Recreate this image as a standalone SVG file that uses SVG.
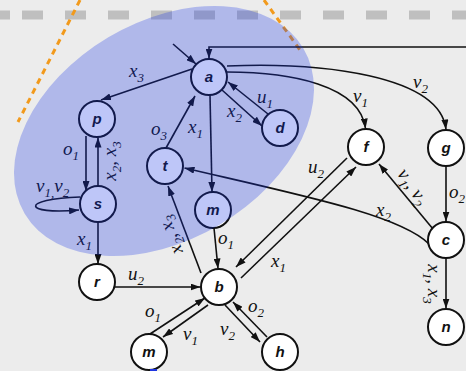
<svg xmlns="http://www.w3.org/2000/svg" width="466" height="371" viewBox="0 0 466 371">
  <defs>
    <marker id="arr" viewBox="0 0 10 7" refX="10" refY="3.5" markerWidth="10" markerHeight="7" orient="auto" markerUnits="userSpaceOnUse">
      <path d="M0,0 L10,3.5 L0,7 z" fill="#111"/>
    </marker>
    <style>
      .edge { fill: none; stroke: #111; stroke-width: 1.6; marker-end: url(#arr); }
      .node circle { fill: #fff; stroke: #111; stroke-width: 2; }
      .node text { font-family: "Liberation Sans", Arial, sans-serif; font-weight: bold; font-style: italic; font-size: 15px; text-anchor: middle; fill: #111; }
      .lbl { font-family: "Liberation Serif", "Times New Roman", serif; font-style: italic; font-size: 19px; fill: #111; }
      .sb { font-size: 13px; }
      .guide { fill: none; stroke: #f29a1c; stroke-width: 3; stroke-dasharray: 6 5; }
    </style>
  </defs>

  <!-- page background -->
  <rect x="0" y="0" width="466" height="371" fill="#ececec"/>

  <!-- gray dashed band across the top -->
  <g id="band" fill="none" stroke="#bfbfbf" stroke-width="9">
    <line x1="0" y1="15" x2="10" y2="15"/>
    <line x1="22" y1="15" x2="466" y2="15" stroke-dasharray="21 22"/>
  </g>

  <!-- orange guide lines -->
  <g id="guides">
    <line class="guide" x1="80" y1="0" x2="18" y2="122"/>
    <line class="guide" x1="264" y1="0" x2="300" y2="50"/>
  </g>

  <!-- connectors -->
  <g id="connectors">
    <path class="edge" d="M466,47 H209 V58.5"/>
    <path class="edge" d="M173,44 L196,64"/>
    <path class="edge" d="M192,69 L101,100"/>
    <path class="edge" d="M86,136 L86,191"/>
    <path class="edge" d="M98,186 L98,137.5"/>
    <path class="edge" d="M80,197 C20,199 22,215 79,210"/>
    <path class="edge" d="M98,222 L98,264"/>
    <path class="edge" d="M115,287 L200.5,287"/>
    <path class="edge" d="M210,95 L212,192"/>
    <path class="edge" d="M166,148 L195,96"/>
    <path class="edge" d="M222,90 L262,126"/>
    <path class="edge" d="M268,114 L228,82"/>
    <path class="edge" d="M227,72 C290,72 360,85 365.5,128.5"/>
    <path class="edge" d="M227,66 C320,62 440,75 446,129.5"/>
    <path class="edge" d="M446,166 L446,221.5"/>
    <path class="edge" d="M433,229 L379,164"/>
    <path class="edge" d="M429,244 C400,215 300,195 184.5,168"/>
    <path class="edge" d="M446,258 L446,308.5"/>
    <path class="edge" d="M347,158 L236,267"/>
    <path class="edge" d="M241,278 L356,167"/>
    <path class="edge" d="M201,273 L168,186"/>
    <path class="edge" d="M214,228 L218,268.5"/>
    <path class="edge" d="M150,334 L205,298"/>
    <path class="edge" d="M208,305 L163,337"/>
    <path class="edge" d="M225,305 L260,342"/>
    <path class="edge" d="M267,337 L233,302"/>
  </g>

  <!-- connector labels -->
  <g id="edge-labels" class="lbl">
    <text x="129" y="77">x<tspan class="sb" dy="5">3</tspan></text>
    <text x="63" y="155">o<tspan class="sb" dy="5">1</tspan></text>
    <text transform="translate(116,161) rotate(-90)" text-anchor="middle">x<tspan class="sb" dy="5">2</tspan><tspan dy="-5">, x</tspan><tspan class="sb" dy="5">3</tspan></text>
    <text x="36" y="192">v<tspan class="sb" dy="5">1,</tspan><tspan dy="-5">v</tspan><tspan class="sb" dy="5">2</tspan></text>
    <text x="77" y="245">x<tspan class="sb" dy="5">1</tspan></text>
    <text x="128" y="280">u<tspan class="sb" dy="5">2</tspan></text>
    <text x="188" y="133">x<tspan class="sb" dy="5">1</tspan></text>
    <text x="151" y="135">o<tspan class="sb" dy="5">3</tspan></text>
    <text x="227" y="117">x<tspan class="sb" dy="5">2</tspan></text>
    <text x="257" y="103">u<tspan class="sb" dy="5">1</tspan></text>
    <text x="353" y="102">v<tspan class="sb" dy="5">1</tspan></text>
    <text x="413" y="88">v<tspan class="sb" dy="5">2</tspan></text>
    <text x="449" y="198">o<tspan class="sb" dy="5">2</tspan></text>
    <text transform="translate(408,190) rotate(55)" text-anchor="middle">v<tspan class="sb" dy="5">1</tspan><tspan dy="-5">, v</tspan><tspan class="sb" dy="5">2</tspan></text>
    <text x="376" y="216">x<tspan class="sb" dy="5">2</tspan></text>
    <text transform="translate(428,284) rotate(90)" text-anchor="middle">x<tspan class="sb" dy="5">1</tspan><tspan dy="-5">, x</tspan><tspan class="sb" dy="5">3</tspan></text>
    <text x="308" y="173">u<tspan class="sb" dy="5">2</tspan></text>
    <text x="271" y="267">x<tspan class="sb" dy="5">1</tspan></text>
    <text transform="translate(176,233) rotate(-111)" text-anchor="middle">x<tspan class="sb" dy="5">2</tspan><tspan dy="-5">, x</tspan><tspan class="sb" dy="5">3</tspan></text>
    <text x="218" y="244">o<tspan class="sb" dy="5">1</tspan></text>
    <text x="145" y="317">o<tspan class="sb" dy="5">1</tspan></text>
    <text x="183" y="340">v<tspan class="sb" dy="5">1</tspan></text>
    <text x="220" y="335">v<tspan class="sb" dy="5">2</tspan></text>
    <text x="248" y="312">o<tspan class="sb" dy="5">2</tspan></text>
  </g>

  <!-- nodes -->
  <g id="node-a" class="node"><circle cx="209" cy="77" r="18"/><text x="209" y="82">a</text></g>
  <g id="node-p" class="node"><circle cx="97" cy="119" r="18"/><text x="97" y="124">p</text></g>
  <g id="node-t" class="node"><circle cx="165" cy="166" r="18"/><text x="165" y="171">t</text></g>
  <g id="node-d" class="node"><circle cx="280" cy="128" r="18"/><text x="280" y="133">d</text></g>
  <g id="node-f" class="node"><circle cx="366" cy="147" r="18"/><text x="366" y="152">f</text></g>
  <g id="node-g" class="node"><circle cx="446" cy="148" r="18"/><text x="446" y="153">g</text></g>
  <g id="node-s" class="node"><circle cx="98" cy="204" r="18"/><text x="98" y="209">s</text></g>
  <g id="node-m1" class="node"><circle cx="213" cy="210" r="18"/><text x="213" y="215">m</text></g>
  <g id="node-r" class="node"><circle cx="97" cy="282" r="18"/><text x="97" y="287">r</text></g>
  <g id="node-b" class="node"><circle cx="219" cy="287" r="18"/><text x="219" y="292">b</text></g>
  <g id="node-m2" class="node"><circle cx="149" cy="352" r="18"/><text x="149" y="357">m</text></g>
  <g id="node-h" class="node"><circle cx="280" cy="352" r="18"/><text x="280" y="357">h</text></g>
  <g id="node-c" class="node"><circle cx="446" cy="240" r="18"/><text x="446" y="245">c</text></g>
  <g id="node-n" class="node"><circle cx="446" cy="327" r="18"/><text x="446" y="332">n</text></g>

  <!-- small blue mark at the bottom edge -->
  <rect x="150" y="369" width="7" height="2" fill="#1f35e0"/>

  <!-- translucent region laid over the upper-left cluster -->
  <ellipse id="region" cx="164" cy="131" rx="162" ry="109" transform="rotate(-30.7 164 131)" fill="rgb(20,50,230)" fill-opacity="0.28"/>
</svg>
